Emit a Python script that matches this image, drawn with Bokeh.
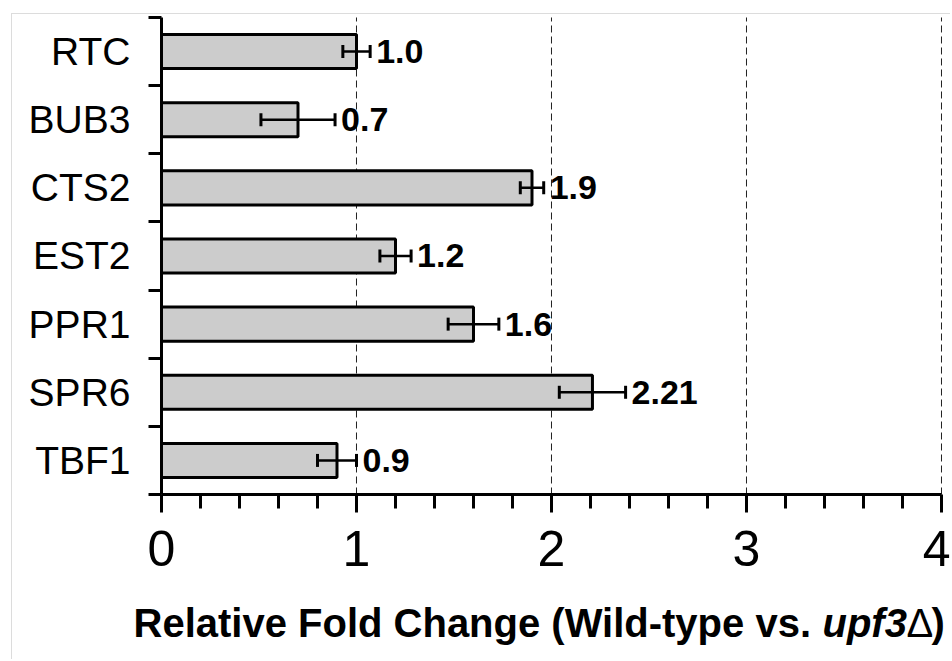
from bokeh.plotting import figure
from bokeh.models import ColumnDataSource, FixedTicker, Whisker, TeeHead, Label
from bokeh.core.properties import value
from bokeh.embed import file_html
from bokeh.resources import INLINE

# Genes, top to bottom
genes = ["RTC", "BUB3", "CTS2", "EST2", "PPR1", "SPR6", "TBF1"]
fold_change = [1.0, 0.7, 1.9, 1.2, 1.6, 2.21, 0.9]
fold_error = [0.07, 0.19, 0.06, 0.08, 0.13, 0.17, 0.10]
value_labels = ["1.0", "0.7", "1.9", "1.2", "1.6", "2.21", "0.9"]
x_ticks = [0, 1, 2, 3, 4]

n = len(genes)
ypos = [n - 0.5 - i for i in range(n)]

src = ColumnDataSource(dict(
    y=ypos,
    fc=fold_change,
    lo=[v - e for v, e in zip(fold_change, fold_error)],
    hi=[v + e for v, e in zip(fold_change, fold_error)],
    lab=value_labels,
))

FONT = "Liberation Sans"

# the frame fills the whole canvas; both axes sit at the zero lines
p = figure(width=939, height=646,
           x_range=(-0.7641, 4.0513), y_range=(-2.4361, 7.0440),
           output_backend="svg", toolbar_location=None,
           min_border_left=0, min_border_right=0,
           min_border_top=0, min_border_bottom=0)
p.margin = (13, 0, 0, 11)
p.styles = {"border-left": "1px solid #dcdcdc", "border-top": "1px solid #dcdcdc"}
p.outline_line_color = None
p.background_fill_color = "white"
p.border_fill_color = "white"
p.xgrid.visible = False
p.ygrid.visible = False

# dashed vertical guides at the major ticks
guides = x_ticks[1:]
p.segment(x0=guides, y0=[0] * len(guides), x1=guides, y1=[n] * len(guides),
          line_color="#222222", line_width=1, line_dash="7 4", level="underlay")

# bars
p.hbar(y="y", left=0, right="fc", height=0.5, source=src,
       fill_color="#cccccc", line_color="black", line_width=3)

# error bars
wh = Whisker(source=src, base="y", lower="lo", upper="hi", dimension="width",
             line_color="black", line_width=2.5,
             upper_head=TeeHead(size=13, line_width=3, line_color="black"),
             lower_head=TeeHead(size=13, line_width=3, line_color="black"))
wh.level = "annotation"
p.add_layout(wh)

# value labels
p.text(x="hi", y="y", text="lab", source=src, x_offset=6,
       text_baseline="middle", text_align="left",
       text_font=value(FONT), text_font_style="bold", text_font_size="34px",
       text_color="black")

# x axis
xa = p.xaxis[0]
minor = [i * 0.2 for i in range(21) if i % 5]
xa.fixed_location = 0
xa.ticker = FixedTicker(ticks=x_ticks, minor_ticks=minor)
xa.bounds = (0, 4)
xa.axis_line_width = 3
xa.major_tick_line_width = 3
xa.minor_tick_line_width = 3
xa.major_tick_in = 0
xa.major_tick_out = 18
xa.minor_tick_in = 0
xa.minor_tick_out = 14
xa.major_label_text_font = FONT
xa.major_label_text_font_size = "50px"
xa.major_label_text_color = "black"
xa.major_label_standoff = 19

# y axis: labels at bar centres, ticks at category boundaries
ya = p.yaxis[0]
ya.fixed_location = 0
ya.ticker = FixedTicker(ticks=ypos, minor_ticks=list(range(n + 1)))
ya.major_label_overrides = {y: g for y, g in zip(ypos, genes)}
ya.bounds = (0, n)
ya.axis_line_width = 3
ya.major_tick_line_color = None
ya.major_tick_in = 0
ya.major_tick_out = 0
ya.minor_tick_line_width = 3
ya.minor_tick_in = 0
ya.minor_tick_out = 13
ya.major_label_text_font = FONT
ya.major_label_text_font_size = "39px"
ya.major_label_text_color = "black"
ya.major_label_standoff = 18

# axis title with italic gene name
tx, ty = -0.1436, -1.879
parts = [("Relative Fold Change (Wild-type vs. ", "bold", 0),
         ("upf3", "bold italic", 689),
         ("\u0394", "normal", 773),
         (")", "bold", 798)]
for txt, style, off in parts:
    p.add_layout(Label(x=tx, y=ty, x_offset=off, text=txt,
                       text_font=FONT, text_font_style=style,
                       text_font_size="40px", text_color="black",
                       text_baseline="alphabetic"))

open("out.html", "w").write(file_html(p, INLINE))
